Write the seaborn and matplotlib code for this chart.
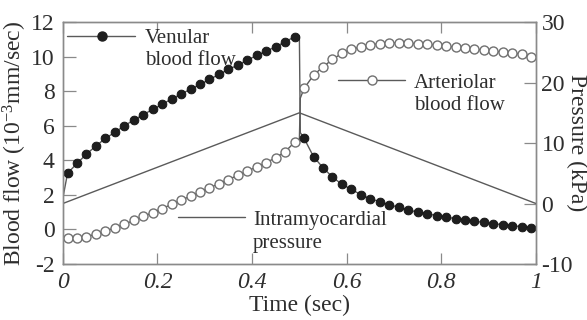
import matplotlib
matplotlib.use("Agg")
import matplotlib.pyplot as plt
import seaborn as sns
import pandas as pd

# ---------------- data ----------------
t_systole = [0.01, 0.03, 0.05, 0.07, 0.09, 0.11, 0.13, 0.15, 0.17, 0.19, 0.21, 0.23, 0.25,
             0.27, 0.29, 0.31, 0.33, 0.35, 0.37, 0.39, 0.41, 0.43, 0.45, 0.47, 0.49]
t_diastole = [0.51, 0.53, 0.55, 0.57, 0.59, 0.61, 0.63, 0.65, 0.67, 0.69, 0.71, 0.73, 0.75,
              0.77, 0.79, 0.81, 0.83, 0.85, 0.87, 0.89, 0.91, 0.93, 0.95, 0.97, 0.99]

venular_systole = [3.25, 3.82, 4.36, 4.83, 5.27, 5.62, 6.00, 6.33, 6.64, 6.95, 7.24, 7.55, 7.83,
                   8.12, 8.39, 8.68, 8.97, 9.26, 9.51, 9.80, 10.07, 10.32, 10.57, 10.86, 11.15]
venular_diastole = [5.27, 4.21, 3.57, 3.03, 2.61, 2.32, 2.01, 1.78, 1.60, 1.43, 1.28, 1.12, 1.01,
                    0.91, 0.80, 0.72, 0.62, 0.55, 0.47, 0.41, 0.33, 0.28, 0.22, 0.16, 0.10]

arteriolar_systole = [-0.47, -0.52, -0.42, -0.27, -0.10, 0.10, 0.30, 0.52, 0.75, 0.98, 1.21, 1.45, 1.69,
                      1.93, 2.17, 2.41, 2.65, 2.89, 3.13, 3.38, 3.62, 3.87, 4.15, 4.50, 5.05]
arteriolar_diastole = [8.16, 8.93, 9.41, 9.84, 10.19, 10.42, 10.57, 10.69, 10.75, 10.79, 10.79, 10.77, 10.75,
                       10.71, 10.67, 10.61, 10.55, 10.50, 10.44, 10.38, 10.32, 10.26, 10.21, 10.15, 10.00]

# unmarked line points: start of cycle and the jump at end-systole
t_start = [0.0]
venular_start = [1.8]
arteriolar_start = [-0.45]
t_jump = [0.50, 0.502]
venular_jump = [11.2, 5.6]
arteriolar_jump = [5.2, 7.6]

pressure_t = [0.0, 0.5, 1.0]
pressure_kpa = [0.0, 15.0, 0.0]

x_ticks = [0, 0.2, 0.4, 0.6, 0.8, 1]
x_ticklabels = ["0", "0.2", "0.4", "0.6", "0.8", "1"]
flow_ticks = [-2, 0, 2, 4, 6, 8, 10, 12]
pressure_ticks = [-10, 0, 10, 20, 30]

# ---------------- style ----------------
sns.set_style("white")
plt.rcParams["font.family"] = ["Liberation Serif", "DejaVu Serif"]
plt.rcParams["mathtext.fontset"] = "custom"
plt.rcParams["mathtext.rm"] = "Liberation Serif"
plt.rcParams["mathtext.it"] = "Liberation Serif:italic"
plt.rcParams["axes.unicode_minus"] = False

TXT = "#2e2e2e"
LINE = "#5a5a5a"
SPINE = "#8a8a8a"

fig = plt.figure(figsize=(5.87, 3.20), dpi=100)
ax = fig.add_axes([0.107, 0.175, 0.806, 0.756])
ax2 = ax.twinx()

def line_df(t0, v0, t1, v1, tj, vj, t2, v2):
    return pd.DataFrame({"t": t0 + t1 + tj + t2, "v": v0 + v1 + vj + v2})

ven_line = line_df(t_start, venular_start, t_systole, venular_systole, t_jump, venular_jump,
                   t_diastole, venular_diastole)
art_line = line_df(t_start, arteriolar_start, t_systole, arteriolar_systole, t_jump, arteriolar_jump,
                   t_diastole, arteriolar_diastole)
ven_pts = pd.DataFrame({"t": t_systole + t_diastole, "v": venular_systole + venular_diastole})
art_pts = pd.DataFrame({"t": t_systole + t_diastole, "v": arteriolar_systole + arteriolar_diastole})
pres = pd.DataFrame({"t": pressure_t, "p": pressure_kpa})

sns.lineplot(data=pres, x="t", y="p", ax=ax2, color=LINE, lw=1.0, sort=False, estimator=None)
sns.lineplot(data=ven_line, x="t", y="v", ax=ax, color=LINE, lw=1.0, sort=False, estimator=None)
sns.lineplot(data=art_line, x="t", y="v", ax=ax, color=LINE, lw=1.0, sort=False, estimator=None)
sns.scatterplot(data=art_pts, x="t", y="v", ax=ax, s=42, facecolor="white",
                edgecolor="#707070", linewidth=1.0, zorder=5)
sns.scatterplot(data=ven_pts, x="t", y="v", ax=ax, s=40, color="#1e1e1e",
                edgecolor="#111111", linewidth=0.6, zorder=6)

ax.set_xlim(0, 1)
ax.set_ylim(-2, 12)
ax2.set_ylim(-10, 30)

ax.set_xticks(x_ticks)
ax.set_xticklabels(x_ticklabels, fontstyle="italic")
ax.set_yticks(flow_ticks)
ax2.set_yticks(pressure_ticks)

ax.tick_params(axis="x", direction="in", length=8, width=0.9, color=SPINE, labelsize=17,
               labelcolor=TXT, pad=6, top=True, bottom=True)
ax.tick_params(axis="y", direction="in", length=9, width=0.9, color=SPINE, labelsize=17,
               labelcolor=TXT, pad=6, left=True)
ax2.tick_params(axis="y", direction="in", length=9, width=0.9, color=SPINE, labelsize=17,
                labelcolor=TXT, pad=4, right=True)

for a in (ax, ax2):
    for s in a.spines.values():
        s.set_color(SPINE)
        s.set_linewidth(1.0)

ax.set_xlabel("Time (sec)", fontsize=17, color=TXT, labelpad=1)
ax.set_ylabel("Blood flow (10$^{-3}$mm/sec)", fontsize=17, color=TXT, labelpad=1)
ax2.set_ylabel("Pressure (kPa)", fontsize=17, color=TXT, rotation=270, labelpad=10)

# ---------------- in-plot keys ----------------
tr = ax.transAxes
ax.plot([0.008, 0.152], [0.942, 0.942], color=LINE, lw=1.0, transform=tr)
ax.plot([0.082], [0.942], "o", ms=6.5, color="#1e1e1e", transform=tr, zorder=6)
ax.text(0.173, 0.912, "Venular", fontsize=15, color=TXT, transform=tr, va="baseline")
ax.text(0.173, 0.822, "blood flow", fontsize=15, color=TXT, transform=tr, va="baseline")

ax.plot([0.581, 0.723], [0.760, 0.760], color=LINE, lw=1.0, transform=tr)
ax.plot([0.653], [0.760], "o", ms=6.5, mfc="white", mec="#707070", mew=1.0, transform=tr, zorder=6)
ax.text(0.742, 0.729, "Arteriolar", fontsize=15, color=TXT, transform=tr, va="baseline")
ax.text(0.742, 0.636, "blood flow", fontsize=15, color=TXT, transform=tr, va="baseline")

ax.plot([0.243, 0.385], [0.195, 0.195], color=LINE, lw=1.0, transform=tr)
ax.text(0.402, 0.161, "Intramyocardial", fontsize=15, color=TXT, transform=tr, va="baseline")
ax.text(0.402, 0.068, "pressure", fontsize=15, color=TXT, transform=tr, va="baseline")

fig.savefig("out.png", dpi=100)
